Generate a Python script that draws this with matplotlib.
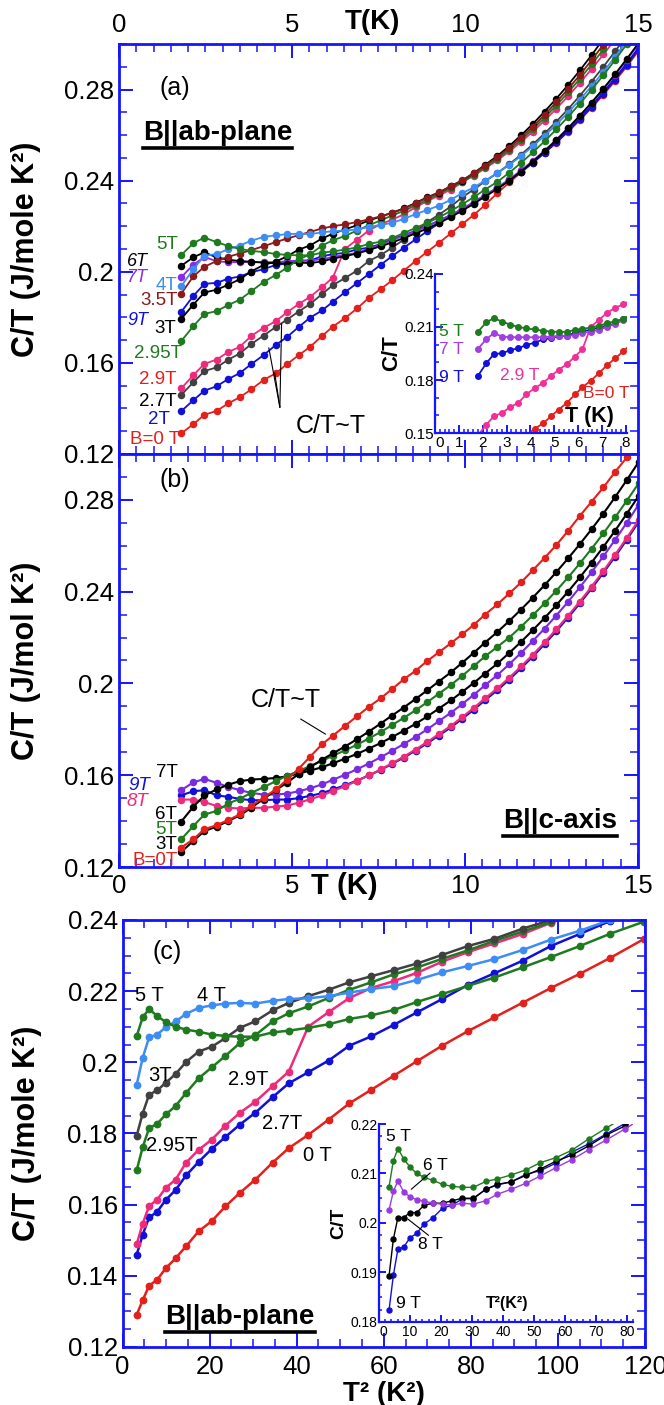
import matplotlib
matplotlib.use("Agg")
import numpy as np
import matplotlib.pyplot as plt
from matplotlib.ticker import MultipleLocator, FuncFormatter
from matplotlib.lines import Line2D

plt.rcParams['font.family'] = ['Liberation Sans', 'DejaVu Sans']

# temperature grid of the measurements (K)
T_K = [1.80, 2.15, 2.47, 2.82, 3.16, 3.49, 3.82, 4.18, 4.53, 4.86,
       5.19, 5.52, 5.87, 6.18, 6.53, 6.88, 7.22, 7.56, 7.89, 8.23,
       8.57, 8.91, 9.24, 9.59, 9.92, 10.25, 10.58, 10.94, 11.28, 11.62,
       11.96, 12.30, 12.64, 12.98, 13.32, 13.66, 14.00, 14.34, 14.68, 15.02]

# C/T (J/mole K^2), field in the ab-plane
ab_0T = [0.1290, 0.1331, 0.1372, 0.1389, 0.1422, 0.1449, 0.1483, 0.1525, 0.1554, 0.1595,
         0.1633, 0.1670, 0.1718, 0.1759, 0.1796, 0.1839, 0.1885, 0.1923, 0.1962, 0.2004,
         0.2047, 0.2088, 0.2126, 0.2168, 0.2209, 0.2249, 0.2293, 0.2346, 0.2392, 0.2436,
         0.2478, 0.2522, 0.2567, 0.2615, 0.2666, 0.2720, 0.2777, 0.2838, 0.2902, 0.2970]
ab_2T = [0.1388, 0.1436, 0.1478, 0.1497, 0.1529, 0.1555, 0.1594, 0.1634, 0.1678, 0.1714,
         0.1757, 0.1798, 0.1830, 0.1868, 0.1910, 0.1950, 0.1990, 0.2030, 0.2068, 0.2105,
         0.2142, 0.2178, 0.2212, 0.2245, 0.2275, 0.2304, 0.2335, 0.2368, 0.2402, 0.2439,
         0.2479, 0.2522, 0.2568, 0.2617, 0.2669, 0.2724, 0.2782, 0.2844, 0.2909, 0.2977]
ab_27T = [0.1459, 0.1515, 0.1564, 0.1580, 0.1614, 0.1641, 0.1682, 0.1720, 0.1757, 0.1790,
          0.1825, 0.1858, 0.1902, 0.1941, 0.1972, 0.2005, 0.2047, 0.2073, 0.2105, 0.2141,
          0.2178, 0.2218, 0.2250, 0.2286, 0.2327, 0.2361, 0.2397, 0.2434, 0.2472, 0.2514,
          0.2559, 0.2607, 0.2659, 0.2714, 0.2773, 0.2835, 0.2900, 0.2968, 0.3038, 0.3110]
ab_29T = [0.1488, 0.1546, 0.1596, 0.1614, 0.1648, 0.1670, 0.1718, 0.1754, 0.1783, 0.1822,
          0.1858, 0.1889, 0.1933, 0.1974, 0.2100, 0.2141, 0.2181, 0.2209, 0.2228, 0.2252,
          0.2283, 0.2310, 0.2334, 0.2361, 0.2392, 0.2422, 0.2454, 0.2490, 0.2528, 0.2570,
          0.2615, 0.2664, 0.2716, 0.2771, 0.2829, 0.2890, 0.2954, 0.3020, 0.3090, 0.3160]
ab_295T = [0.1696, 0.1761, 0.1815, 0.1827, 0.1854, 0.1877, 0.1914, 0.1955, 0.1986, 0.2018,
           0.2054, 0.2076, 0.2115, 0.2138, 0.2157, 0.2181, 0.2204, 0.2225, 0.2247, 0.2267,
           0.2291, 0.2315, 0.2341, 0.2368, 0.2394, 0.2425, 0.2458, 0.2495, 0.2535, 0.2579,
           0.2626, 0.2677, 0.2730, 0.2787, 0.2847, 0.2910, 0.2976, 0.3045, 0.3118, 0.3190]
ab_3T = [0.1793, 0.1856, 0.1909, 0.1921, 0.1943, 0.1967, 0.2001, 0.2030, 0.2044, 0.2068,
         0.2097, 0.2115, 0.2146, 0.2167, 0.2186, 0.2204, 0.2225, 0.2242, 0.2259, 0.2278,
         0.2302, 0.2327, 0.2347, 0.2376, 0.2400, 0.2433, 0.2469, 0.2509, 0.2552, 0.2599,
         0.2649, 0.2703, 0.2760, 0.2820, 0.2884, 0.2951, 0.3022, 0.3095, 0.3170, 0.3250]
ab_35T = [0.1904, 0.1980, 0.2022, 0.2047, 0.2066, 0.2080, 0.2095, 0.2112, 0.2130, 0.2146,
          0.2160, 0.2175, 0.2190, 0.2200, 0.2208, 0.2218, 0.2230, 0.2243, 0.2258, 0.2276,
          0.2300, 0.2325, 0.2348, 0.2375, 0.2402, 0.2432, 0.2466, 0.2503, 0.2544, 0.2589,
          0.2637, 0.2689, 0.2744, 0.2802, 0.2864, 0.2929, 0.2997, 0.3068, 0.3140, 0.3215]
ab_4T = [0.1936, 0.2012, 0.2070, 0.2078, 0.2099, 0.2115, 0.2136, 0.2153, 0.2160, 0.2165,
         0.2167, 0.2165, 0.2173, 0.2178, 0.2180, 0.2186, 0.2196, 0.2206, 0.2214, 0.2232,
         0.2253, 0.2271, 0.2290, 0.2316, 0.2345, 0.2370, 0.2400, 0.2433, 0.2469, 0.2508,
         0.2551, 0.2597, 0.2646, 0.2699, 0.2755, 0.2815, 0.2878, 0.2944, 0.3013, 0.3085]
ab_5T = [0.2073, 0.2126, 0.2150, 0.2130, 0.2113, 0.2100, 0.2092, 0.2086, 0.2078, 0.2074,
         0.2072, 0.2072, 0.2084, 0.2089, 0.2097, 0.2107, 0.2122, 0.2132, 0.2147, 0.2170,
         0.2192, 0.2215, 0.2238, 0.2267, 0.2296, 0.2327, 0.2361, 0.2395, 0.2435, 0.2478,
         0.2524, 0.2573, 0.2625, 0.2680, 0.2738, 0.2799, 0.2863, 0.2930, 0.3000, 0.3073]
ab_6T = [0.2026, 0.2064, 0.2085, 0.2063, 0.2053, 0.2047, 0.2044, 0.2040, 0.2038, 0.2036,
         0.2040, 0.2038, 0.2045, 0.2058, 0.2068, 0.2080, 0.2095, 0.2112, 0.2128, 0.2148,
         0.2168, 0.2190, 0.2213, 0.2240, 0.2268, 0.2298, 0.2330, 0.2364, 0.2400, 0.2440,
         0.2483, 0.2529, 0.2578, 0.2630, 0.2685, 0.2743, 0.2804, 0.2868, 0.2935, 0.3005]
ab_7T = [0.1976, 0.2031, 0.2065, 0.2046, 0.2042, 0.2042, 0.2042, 0.2042, 0.2042, 0.2046,
         0.2049, 0.2049, 0.2055, 0.2065, 0.2074, 0.2083, 0.2102, 0.2117, 0.2139, 0.2158,
         0.2178, 0.2200, 0.2223, 0.2249, 0.2276, 0.2305, 0.2337, 0.2370, 0.2406, 0.2445,
         0.2487, 0.2532, 0.2580, 0.2631, 0.2685, 0.2742, 0.2802, 0.2865, 0.2931, 0.3000]
ab_8T = [0.1893, 0.1967, 0.2011, 0.2011, 0.2021, 0.2021, 0.2036, 0.2040, 0.2040, 0.2045,
         0.2050, 0.2050, 0.2068, 0.2078, 0.2083, 0.2096, 0.2109, 0.2125, 0.2137, 0.2156,
         0.2178, 0.2196, 0.2220]
ab_9T = [0.1824, 0.1894, 0.1947, 0.1951, 0.1970, 0.1979, 0.1998, 0.2011, 0.2030, 0.2036,
         0.2049, 0.2049, 0.2068, 0.2077, 0.2083, 0.2098, 0.2106, 0.2121, 0.2143, 0.2160,
         0.2180, 0.2201, 0.2224, 0.2249, 0.2275, 0.2303, 0.2334, 0.2366, 0.2401, 0.2439,
         0.2480, 0.2524, 0.2571, 0.2621, 0.2674, 0.2730, 0.2789, 0.2851, 0.2916, 0.2984]

# C/T (J/mol K^2), field along the c-axis
c_0T = [0.1285, 0.1321, 0.1365, 0.1382, 0.1405, 0.1429, 0.1466, 0.1502, 0.1538, 0.1581,
        0.1628, 0.1680, 0.1735, 0.1772, 0.1815, 0.1857, 0.1898, 0.1935, 0.1975, 0.2018,
        0.2055, 0.2098, 0.2135, 0.2175, 0.2214, 0.2255, 0.2300, 0.2345, 0.2392, 0.2440,
        0.2493, 0.2547, 0.2603, 0.2665, 0.2730, 0.2792, 0.2854, 0.2922, 0.2985, 0.3050]
c_3T = [0.1266, 0.1314, 0.1357, 0.1376, 0.1401, 0.1425, 0.1458, 0.1497, 0.1535, 0.1568,
        0.1605, 0.1635, 0.1668, 0.1695, 0.1725, 0.1757, 0.1790, 0.1825, 0.1860, 0.1895,
        0.1932, 0.1970, 0.2008, 0.2048, 0.2090, 0.2133, 0.2178, 0.2225, 0.2272, 0.2322,
        0.2374, 0.2428, 0.2485, 0.2545, 0.2607, 0.2672, 0.2740, 0.2812, 0.2887, 0.2965]
c_5T = [0.1321, 0.1379, 0.1429, 0.1444, 0.1477, 0.1497, 0.1523, 0.1548, 0.1574, 0.1598,
        0.1618, 0.1640, 0.1662, 0.1685, 0.1708, 0.1733, 0.1760, 0.1788, 0.1818, 0.1850,
        0.1883, 0.1918, 0.1955, 0.1993, 0.2033, 0.2075, 0.2118, 0.2160, 0.2200, 0.2247,
        0.2297, 0.2349, 0.2404, 0.2462, 0.2523, 0.2587, 0.2654, 0.2724, 0.2797, 0.2872]
c_6T = [0.1398, 0.1463, 0.1512, 0.1538, 0.1559, 0.1574, 0.1581, 0.1584, 0.1588, 0.1595,
        0.1607, 0.1620, 0.1635, 0.1652, 0.1672, 0.1693, 0.1716, 0.1740, 0.1766, 0.1794,
        0.1824, 0.1856, 0.1890, 0.1926, 0.1963, 0.2002, 0.2043, 0.2087, 0.2133, 0.2181,
        0.2232, 0.2285, 0.2341, 0.2400, 0.2462, 0.2527, 0.2595, 0.2666, 0.2740, 0.2817]
c_7T = [0.1535, 0.1569, 0.1584, 0.1567, 0.1549, 0.1535, 0.1523, 0.1516, 0.1516, 0.1520,
        0.1530, 0.1543, 0.1560, 0.1580, 0.1602, 0.1626, 0.1651, 0.1678, 0.1706, 0.1736,
        0.1767, 0.1800, 0.1835, 0.1872, 0.1910, 0.1950, 0.1992, 0.2037, 0.2084, 0.2133,
        0.2185, 0.2239, 0.2296, 0.2356, 0.2419, 0.2485, 0.2554, 0.2626, 0.2701, 0.2779]
c_8T = [0.1494, 0.1494, 0.1483, 0.1466, 0.1458, 0.1455, 0.1458, 0.1458, 0.1463, 0.1468,
        0.1480, 0.1495, 0.1512, 0.1531, 0.1552, 0.1575, 0.1599, 0.1625, 0.1652, 0.1681,
        0.1712, 0.1745, 0.1779, 0.1815, 0.1853, 0.1893, 0.1935, 0.1979, 0.2025, 0.2074,
        0.2125, 0.2179, 0.2236, 0.2295, 0.2357, 0.2422, 0.2490, 0.2561, 0.2635, 0.2712]
c_9T = [0.1513, 0.1530, 0.1535, 0.1512, 0.1506, 0.1497, 0.1491, 0.1491, 0.1494, 0.1494,
        0.1500, 0.1510, 0.1522, 0.1538, 0.1556, 0.1577, 0.1599, 0.1623, 0.1649, 0.1677,
        0.1707, 0.1739, 0.1773, 0.1808, 0.1846, 0.1885, 0.1927, 0.1971, 0.2017, 0.2066,
        0.2117, 0.2171, 0.2228, 0.2287, 0.2349, 0.2414, 0.2482, 0.2553, 0.2627, 0.2704]

# colours
BLUE_AX = '#1414ff'
RED = '#e3201b'
GREEN = '#1f7a1f'
BLUE = '#1010d8'
LBLUE = '#3d8df5'
PINK = '#ee2a7b'
MAGENTA = '#f0309a'
MAROON = '#8b1a1a'
PURPLE = '#8a2be2'
DGRAY = '#404040'
BLACK = '#000000'

T = np.array(T_K)
T2 = T ** 2

fig = plt.figure(figsize=(6.64, 14.05), dpi=100)
fmt = FuncFormatter(lambda v, p: '%g' % round(v, 4))


def frame(ax, xmaj, xmin, ymaj, ymin, size=18.5, lw=2.0, L=10, l=5.5):
    for s in ax.spines.values():
        s.set_color(BLUE_AX)
        s.set_linewidth(lw)
    ax.xaxis.set_major_locator(MultipleLocator(xmaj))
    ax.xaxis.set_minor_locator(MultipleLocator(xmin))
    ax.yaxis.set_major_locator(MultipleLocator(ymaj))
    ax.yaxis.set_minor_locator(MultipleLocator(ymin))
    ax.xaxis.set_major_formatter(fmt)
    ax.yaxis.set_major_formatter(fmt)
    ax.tick_params(which='both', direction='in', top=True, right=True,
                   color=BLUE_AX, labelsize=size)
    ax.tick_params(which='major', length=L, width=1.4)
    ax.tick_params(which='minor', length=l, width=1.1)


def curve(ax, x, y, col, ms=4.4, lw=1.3):
    ax.plot(x[:len(y)], y, '-o', color=col, mec=col, ms=ms, lw=lw)


def lab(ax, x, y, s, col=BLACK, size=13.5, style='normal', ha='right', weight='normal'):
    return ax.text(x, y, s, color=col, fontsize=size, fontstyle=style, ha=ha,
                   va='center', fontweight=weight)


def leader(ax, p0, p1, lw=0.8):
    ax.annotate('', xy=p1, xytext=p0,
                arrowprops=dict(arrowstyle='-', color=BLACK, lw=lw, shrinkA=0, shrinkB=0))


def inset_frame(ax, xmaj, xmin, ymaj, ymin, size, L, l):
    frame(ax, xmaj, xmin, ymaj, ymin, size=size, lw=1.6, L=L, l=l)
    ax.tick_params(which='both', top=False, right=False)
    ax.tick_params(axis='y', pad=1)
    ax.tick_params(axis='x', pad=2)
    ax.spines['top'].set_visible(False)
    ax.spines['right'].set_visible(False)
    ax.patch.set_alpha(0)


underlined = []

# ---------------- panel (a) ----------------
axa = fig.add_axes([0.1792, 0.6769, 0.7816, 0.2918])
axa.set_xlim(0, 15)
axa.set_ylim(0.12, 0.30)
frame(axa, 5, 0.5, 0.04, 0.01)
axa.tick_params(labeltop=True, labelbottom=False)
axa.tick_params(axis='x', which='major', pad=5)

for y, c in [(ab_0T, RED), (ab_2T, BLUE), (ab_27T, DGRAY), (ab_29T, PINK),
             (ab_9T, BLUE), (ab_7T, PURPLE), (ab_6T, BLACK), (ab_295T, GREEN),
             (ab_3T, BLACK), (ab_35T, MAROON), (ab_4T, LBLUE), (ab_5T, GREEN)]:
    curve(axa, T, y, c)

for s, x, y, c, st in [('5T', 1.70, 0.2119, GREEN, 'normal'),
                       ('6T', 0.85, 0.2047, BLACK, 'italic'),
                       ('7T', 0.80, 0.1973, PURPLE, 'italic'),
                       ('4T', 1.70, 0.1938, LBLUE, 'normal'),
                       ('3.5T', 1.70, 0.1873, MAROON, 'normal'),
                       ('9T', 0.85, 0.1786, BLUE, 'italic'),
                       ('3T', 1.66, 0.1750, BLACK, 'normal'),
                       ('2.95T', 1.81, 0.1641, GREEN, 'normal'),
                       ('2.9T', 1.66, 0.1526, RED, 'normal'),
                       ('2.7T', 1.66, 0.1432, BLACK, 'normal'),
                       ('2T', 1.47, 0.1352, BLUE, 'normal'),
                       ('B=0 T', 1.76, 0.1265, RED, 'normal')]:
    lab(axa, x, y, s, c, style=st, size=13 if st == 'italic' else 13.5)

axa.text(1.6, 0.2805, '(a)', fontsize=18, ha='center', va='center')
underlined.append(axa.text(0.69, 0.2608, 'B||ab-plane', fontsize=20, fontweight='bold',
                           ha='left', va='center'))
axa.text(6.13, 0.1323, 'C/T~T', fontsize=18, ha='center', va='center')
for end in [(4.33, 0.1666), (4.50, 0.1556), (4.70, 0.1772)]:
    leader(axa, (4.65, 0.1405), end)
axa.text(0.4875, 1.054, 'T(K)', transform=axa.transAxes, ha='center', va='center',
         fontsize=20, fontweight='bold')
axa.set_ylabel('C/T (J/mole K²)', fontsize=22, fontweight='bold')
axa.yaxis.set_label_coords(-0.15, 0.5)

# inset of (a)
ina = fig.add_axes([0.6551, 0.6918, 0.2892, 0.1132])
ina.set_xlim(0, 8.05)
ina.set_ylim(0.15, 0.24)
inset_frame(ina, 1, 0.2, 0.03, 0.01, 11, 6, 3)
for y, c in [(ab_0T, RED), (ab_29T, MAGENTA), (ab_9T, BLUE), (ab_7T, '#a040e0'),
             (ab_5T, GREEN)]:
    curve(ina, T, y, c, ms=4.0, lw=1.3)
lab(ina, 0.7, 0.2077, '5 T', GREEN, size=12.5, ha='center')
lab(ina, 0.7, 0.1970, '7 T', '#a040e0', size=12.5, ha='center')
lab(ina, 0.7, 0.1813, '9 T', BLUE, size=12.5, ha='center')
lab(ina, 3.56, 0.1823, '2.9 T', MAGENTA, size=12.5, ha='center')
lab(ina, 7.18, 0.1721, 'B=0 T', RED, size=12.5, ha='center')
lab(ina, 6.49, 0.1592, 'T (K)', BLACK, size=15.5, ha='center', weight='bold')
ina.set_ylabel('C/T', fontsize=16, fontweight='bold', labelpad=1)

# ---------------- panel (b) ----------------
axb = fig.add_axes([0.1792, 0.3829, 0.7816, 0.2940])
axb.set_xlim(0, 15)
axb.set_ylim(0.12, 0.30)
frame(axb, 5, 0.5, 0.04, 0.01)
axb.tick_params(axis='x', which='major', pad=5)

for y, c in [(c_9T, BLUE), (c_8T, PINK), (c_7T, '#7a2be0'), (c_6T, BLACK),
             (c_5T, GREEN), (c_3T, BLACK), (c_0T, RED)]:
    curve(axb, T, y, c, lw=1.5)

lab(axb, 1.71, 0.1610, '7T')
lab(axb, 0.90, 0.1555, '9T', BLUE, style='italic')
lab(axb, 0.85, 0.1487, '8T', PINK, style='italic')
lab(axb, 1.67, 0.1427, '6T')
lab(axb, 1.67, 0.1364, '5T', GREEN)
lab(axb, 1.67, 0.1300, '3T')
lab(axb, 1.70, 0.1227, 'B=0T', RED)

axb.text(1.62, 0.2885, '(b)', fontsize=18, ha='center', va='center')
axb.text(4.83, 0.1928, 'C/T~T', fontsize=18, ha='center', va='center')
leader(axb, (5.25, 0.1845), (5.97, 0.1779))
underlined.append(axb.text(12.75, 0.1400, 'B||c-axis', fontsize=20, fontweight='bold',
                           ha='center', va='center'))
axb.text(0.435, -0.046, 'T (K)', transform=axb.transAxes, ha='center', va='center',
         fontsize=21, fontweight='bold')
axb.set_ylabel('C/T (J/mol K²)', fontsize=22, fontweight='bold')
axb.yaxis.set_label_coords(-0.15, 0.5)

# ---------------- panel (c) ----------------
axc = fig.add_axes([0.1845, 0.0413, 0.7869, 0.3039])
axc.set_xlim(0, 120)
axc.set_ylim(0.12, 0.24)
frame(axc, 20, 5, 0.02, 0.005)
axc.tick_params(axis='x', which='major', pad=6)

for y, c in [(ab_0T, RED), (ab_27T, BLUE), (ab_29T, PINK), (ab_295T, GREEN),
             (ab_3T, DGRAY), (ab_4T, LBLUE), (ab_5T, GREEN)]:
    curve(axc, T2, y, c, ms=4.6, lw=1.8)

for s, x, y in [('5 T', 6.1, 0.2189), ('4 T', 20.5, 0.2189), ('3T', 8.5, 0.1962),
                ('2.95T', 11.4, 0.1767), ('2.9T', 28.9, 0.1952), ('2.7T', 36.6, 0.1829),
                ('0 T', 44.75, 0.1738)]:
    lab(axc, x, y, s, size=14.5, ha='center')
axc.text(10.2, 0.2310, '(c)', fontsize=18, ha='center', va='center')
underlined.append(axc.text(27.0, 0.1285, 'B||ab-plane', fontsize=20, fontweight='bold',
                           ha='center', va='center'))
axc.set_xlabel('T² (K²)', fontsize=20, fontweight='bold', labelpad=1)
axc.set_ylabel('C/T (J/mole K²)', fontsize=22, fontweight='bold')
axc.yaxis.set_label_coords(-0.155, 0.5)

# inset of (c)
inc = fig.add_axes([0.5708, 0.0591, 0.3825, 0.1409])
inc.set_xlim(0, 82)
inc.set_ylim(0.18, 0.22)
inset_frame(inc, 10, 2, 0.01, 0.0025, 10, 5, 2.5)
for y, c in [(ab_9T, BLUE), (ab_8T, BLACK), (ab_6T, '#9a3ae0'), (ab_5T, GREEN)]:
    curve(inc, T2, y, c, ms=3.6, lw=1.0)
lab(inc, 6.4, 0.2175, '5 T', size=12.5, ha='center')
lab(inc, 18.1, 0.2117, '6 T', size=12.5, ha='center')
leader(inc, (16.5, 0.2101), (10.4, 0.2068))
lab(inc, 16.5, 0.1956, '8 T', size=12.5, ha='center')
leader(inc, (16.0, 0.1975), (9.3, 0.2008))
lab(inc, 5.5, 0.1838, '9 T', size=12.5, ha='left')
lab(inc, 41.5, 0.1838, 'T²(K²)', size=11.5, ha='center', weight='bold')
inc.set_ylabel('C/T', fontsize=14, fontweight='bold', labelpad=2)

# in the insets the "0" of the x axis sits just right of the lowest y label
fig.canvas.draw()
for ax in (ina, inc):
    x0 = ax.get_xlim()[0]
    for tk in ax.xaxis.get_major_ticks():
        if abs(tk.get_loc() - x0) < 1e-9:
            tk.label1.set_horizontalalignment('left')

# underline the field-direction captions
fig.canvas.draw()
inv = fig.transFigure.inverted()
for t in underlined:
    bb = t.get_window_extent().transformed(inv)
    fig.add_artist(Line2D([bb.x0, bb.x1], [bb.y0 - 0.0015, bb.y0 - 0.0015],
                          transform=fig.transFigure, color=BLACK, lw=2.6))

fig.savefig('out.png', dpi=100)
